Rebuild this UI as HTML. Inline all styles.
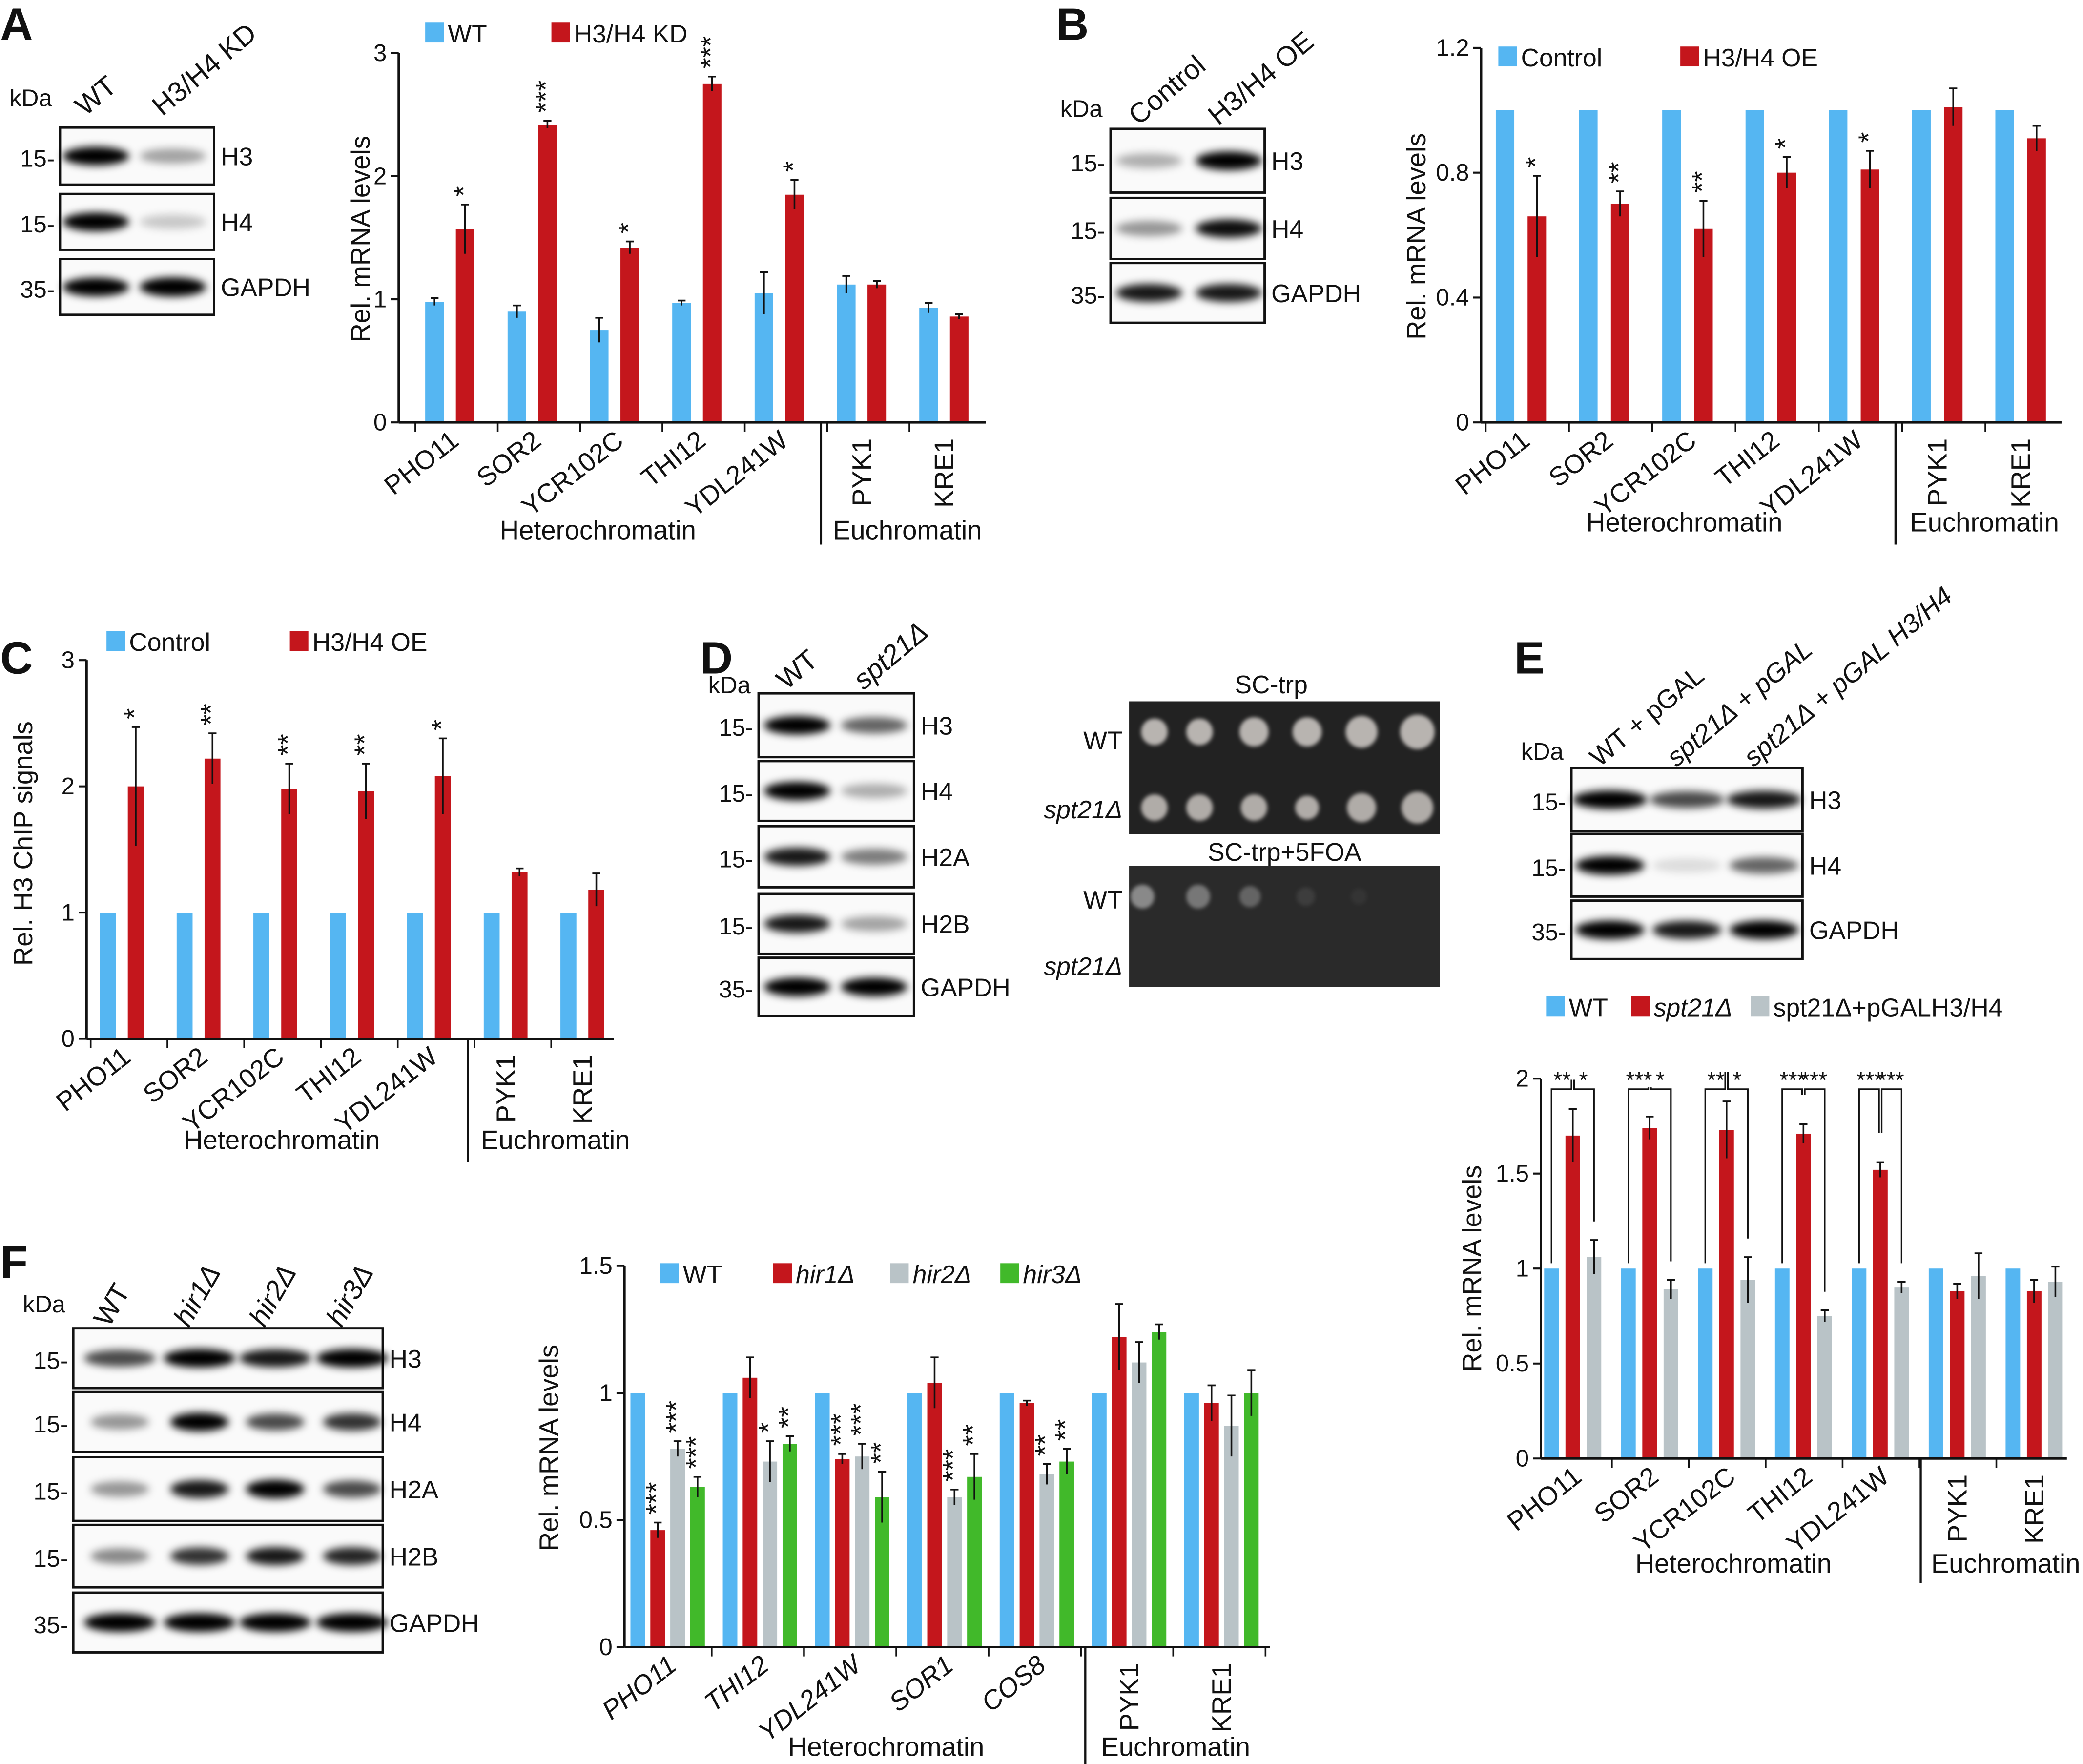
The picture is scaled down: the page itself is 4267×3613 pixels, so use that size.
<!DOCTYPE html>
<html><head><meta charset="utf-8">
<style>
html,body{margin:0;padding:0;background:#fff;}
svg{display:block;}
text{font-family:"Liberation Sans",sans-serif;fill:#111;}
</style></head>
<body>
<svg id="fig" xmlns="http://www.w3.org/2000/svg" width="4267" height="3613" viewBox="0 0 1568 1328">
<defs>
<filter id="blur" x="-30%" y="-80%" width="160%" height="260%"><feGaussianBlur stdDeviation="3"/></filter>
<filter id="blur2" x="-30%" y="-80%" width="160%" height="260%"><feGaussianBlur stdDeviation="1.5"/></filter>
</defs>
</svg>
<script>
// ---------- Data ----------
const catsA=["PHO11","SOR2","YCR102C","THI12","YDL241W","PYK1","KRE1"];
const wtA=[0.98,0.90,0.75,0.97,1.05,1.12,0.93];
const wtErrA=[0.03,0.05,0.1,0.02,0.17,0.07,0.04];
const kdA=[1.57,2.42,1.42,2.75,1.85,1.12,0.86];
const kdErrA=[0.2,0.03,0.05,0.06,0.12,0.03,0.02];
const starsA=["*","***","*","***","*","",""];
const ticksA=[0,1,2,3];

const catsB=["PHO11","SOR2","YCR102C","THI12","YDL241W","PYK1","KRE1"];
const ctlB=[1,1,1,1,1,1,1];
const oeB=[0.66,0.70,0.62,0.80,0.81,1.01,0.91];
const oeErrB=[0.13,0.04,0.09,0.05,0.06,0.06,0.04];
const starsB=["*","**","**","*","*","",""];
const ticksB=[0,0.4,0.8,1.2];

const catsC=["PHO11","SOR2","YCR102C","THI12","YDL241W","PYK1","KRE1"];
const ctlC=[1,1,1,1,1,1,1];
const oeC=[2.0,2.22,1.98,1.96,2.08,1.32,1.18];
const oeErrC=[0.47,0.2,0.2,0.22,0.3,0.03,0.13];
const starsC=["*","**","**","**","*","",""];
const ticksC=[0,1,2,3];

const catsE=["PHO11","SOR2","YCR102C","THI12","YDL241W","PYK1","KRE1"];
const wtE=[1,1,1,1,1,1,1];
const sptE=[1.70,1.74,1.73,1.71,1.52,0.88,0.88];
const sptErrE=[0.14,0.06,0.15,0.05,0.04,0.04,0.06];
const resE=[1.06,0.89,0.94,0.75,0.90,0.96,0.93];
const resErrE=[0.09,0.05,0.12,0.03,0.03,0.12,0.08];
const stars1E=["**","***","**","***","***","",""];
const stars2E=["*","*","*","***","***","",""];
const ticksE=[0,0.5,1,1.5,2];

const catsF=["PHO11","THI12","YDL241W","SOR1","COS8","PYK1","KRE1"];
const wtF=[1,1,1,1,1,1,1];
const hir1F=[0.46,1.06,0.74,1.04,0.96,1.22,0.96];
const hir1ErrF=[0.03,0.08,0.02,0.1,0.01,0.13,0.07];
const hir2F=[0.78,0.73,0.75,0.59,0.68,1.12,0.87];
const hir2ErrF=[0.03,0.08,0.05,0.03,0.04,0.08,0.12];
const hir3F=[0.63,0.80,0.59,0.67,0.73,1.24,1.00];
const hir3ErrF=[0.04,0.03,0.1,0.09,0.05,0.03,0.09];
const stars1F=["***","","***","","","",""];
const stars2F=["***","*","***","***","**","",""];
const stars3F=["***","**","**","**","**","",""];
const ticksF=[0,0.5,1,1.5];

// ---------- helpers ----------
const NS="http://www.w3.org/2000/svg";
const svg=document.getElementById('fig');
function mk(tag,attrs,parent,txt){
  const e=document.createElementNS(NS,tag);
  for(const k in attrs)e.setAttribute(k,attrs[k]);
  if(txt!==undefined)e.textContent=txt;
  (parent||svg).appendChild(e);return e;
}
const BLUE="#55b6f2",RED="#c4161c",GRAY="#b9c3c7",GREEN="#41b92a";

function chart(c){
  const g=mk('g',{});
  
  
  const ymax=c.ticks[c.ticks.length-1];
  const Y=v=>c.y0-(v/ymax)*(c.y0-c.yTop);
  const X=(i,s)=>c.first+i*c.step+c.offs[s];
  c.series.forEach((ser,s)=>{
    ser.vals.forEach((v,i)=>{
      const r=mk('rect',{x:X(i,s)-c.bw/2,y:Y(v),width:c.bw,height:c.y0-Y(v),fill:ser.color},g);
      
      
      if(ser.err){
        const e=ser.err[i];
        mk('line',{x1:X(i,s),x2:X(i,s),y1:Y(v-e),y2:Y(v+e),stroke:'#111','stroke-width':1.3},g);
        mk('line',{x1:X(i,s)-3,x2:X(i,s)+3,y1:Y(v+e),y2:Y(v+e),stroke:'#111','stroke-width':1.3},g);
      }
      if(ser.stars&&ser.stars[i]){
        const st=ser.stars[i];const yy=Y(v+(ser.err?ser.err[i]:0))-6;
        if(c.rotStars){
          mk('text',{x:X(i,s)+6,y:yy,'font-size':21,'text-anchor':'start',transform:`rotate(-90 ${X(i,s)+6} ${yy})`},g,st);
        }else mk('text',{x:X(i,s),y:yy+8,'font-size':20,'text-anchor':'middle'},g,st);
      }
    });
  });
  mk('line',{x1:c.x0,x2:c.x0,y1:c.y0,y2:c.yTop,stroke:'#111','stroke-width':1.8},g);
  mk('line',{x1:c.x0,x2:c.xEnd,y1:c.y0,y2:c.y0,stroke:'#111','stroke-width':1.8},g);
  c.ticks.forEach(t=>{
    mk('line',{x1:c.x0-6,x2:c.x0,y1:Y(t),y2:Y(t),stroke:'#111','stroke-width':1.5},g);
    const tl=mk('text',{x:c.x0-9,y:Y(t)+6,'font-size':18,'text-anchor':'end'},g,String(t));
    
    
  });
  for(let i=0;i<=c.cats.length;i++){
    const gx=c.first-c.offs[0]-c.bw/2-c.step*0.12+i*c.step;
    if(gx>c.x0+2&&gx<c.xEnd) mk('line',{x1:gx,x2:gx,y1:c.y0,y2:c.y0+7,stroke:'#111','stroke-width':1.3},g);
  }
  const mid=(c.offs[0]+c.offs[c.offs.length-1])/2;
  c.cats.forEach((cat,i)=>{
    const cx=c.first+i*c.step+mid;
    let t;
    if(i>=5){
      t=mk('text',{x:cx+7,y:c.y0+12,'font-size':20,'text-anchor':'end',transform:`rotate(-90 ${cx+7} ${c.y0+12})`},g,cat);
    }else{
      const ax=cx+8,ay=c.y0+16;
      t=mk('text',{x:ax,y:ay,'font-size':20,'text-anchor':'end',transform:`rotate(-38 ${ax} ${ay})`,'font-style':c.italicCats?'italic':'normal'},g,cat);
    }
    
    
  });
  mk('line',{x1:c.div,x2:c.div,y1:c.y0,y2:c.y0+c.divLen,stroke:'#111','stroke-width':1.6},g);
  const h=mk('text',{x:c.hetX,y:c.y0+c.grpY,'font-size':20,'text-anchor':'middle'},g,'Heterochromatin');
  
  const eu=mk('text',{x:c.euX,y:c.y0+c.grpY,'font-size':20,'text-anchor':'middle'},g,'Euchromatin');
  
  const yl=mk('text',{x:c.ylX,y:c.ylY,'font-size':20,'text-anchor':'middle',transform:`rotate(-90 ${c.ylX} ${c.ylY})`},g,c.ylabel);
  
  return {Y,X};
}
function legend(items,y){
  items.forEach(it=>{
    const r=mk('rect',{x:it.x,y:y-15,width:14,height:15,fill:it.color});
    
    
    const t=mk('text',{x:it.x+17,y:y,'font-size':19,'font-style':it.italic?'italic':'normal'},undefined,it.label);
    
    
  });
}
function letter(ch,x,y){
  const t=mk('text',{x:x,y:y,'font-size':34,'font-weight':'bold'},undefined,ch);
  
  
}
function blot(name,x,w,rows,lanes,kdaY,colLabels,labAngle,labY,italicFrom,labSize){
  const g=mk('g',{});
  
  
  rows.forEach(r=>{
    mk('rect',{x:x,y:r.y,width:w,height:r.h,fill:'#fafafa',stroke:'#111','stroke-width':1.8},g);
    r.int.forEach((v,i)=>{
      if(v<=0)return;
      const cx=lanes[i];
      mk('ellipse',{cx:cx,cy:r.y+r.h/2,rx:r.bw||25,ry:5+v*2,fill:'#000','fill-opacity':Math.min(1,v),filter:'url(#blur)'},g);
    });
    const l=mk('text',{x:x+w+5,y:r.y+r.h/2+7,'font-size':19},g,r.label);
    
    mk('text',{x:x-4,y:r.y+r.h/2+8,'font-size':18,'text-anchor':'end'},g,r.kda+'-');
  });
  mk('text',{x:x-38,y:kdaY,'font-size':18},g,'kDa');
  colLabels.forEach((c,i)=>{
    const lx=lanes[i]-8,ly=labY;
    mk('text',{x:lx,y:ly,'font-size':labSize||21,transform:`rotate(${labAngle} ${lx} ${ly})`,'font-style':(i>=italicFrom)?'italic':'normal'},g,c);
  });
}

// ---------- Panel A ----------
letter('A',0,30);
blot('blot-a',45,116,[
 {y:96,h:43,label:'H3',kda:15,int:[1,0.35]},
 {y:146,h:42,label:'H4',kda:15,int:[1,0.2]},
 {y:195,h:42,label:'GAPDH',kda:35,int:[1,1.1]}],[72,130],80,['WT','H3/H4 KD'],-40,88,9);
chart({name:'chart-a',cats:catsA,x0:300,xEnd:742,y0:318,yTop:40,ticks:ticksA,first:327,step:62,offs:[0,23],bw:14,
 series:[{key:'wt',vals:wtA,err:wtErrA,color:BLUE},{key:'kd',vals:kdA,err:kdErrA,color:RED,stars:starsA}],
 rotStars:true,div:618,divLen:92,hetX:450,euX:683,grpY:88,ylX:278,ylY:180,ylabel:'Rel. mRNA levels'});
legend([{x:320,color:BLUE,label:'WT',key:'a-wt'},{x:415,color:RED,label:'H3/H4 KD',key:'a-kd'}],32);

// ---------- Panel B ----------
letter('B',795,30);
blot('blot-b',836,116,[
 {y:97,h:48,label:'H3',kda:15,int:[0.3,1]},
 {y:149,h:46,label:'H4',kda:15,int:[0.4,0.95]},
 {y:198,h:45,label:'GAPDH',kda:35,int:[0.9,0.9]}],[865,925],88,['Control','H3/H4 OE'],-40,95,9);
chart({name:'chart-b',cats:catsB,x0:1115,xEnd:1552,y0:318,yTop:36,ticks:ticksB,first:1133,step:62.7,offs:[0,24],bw:14,
 series:[{key:'ctl',vals:ctlB,color:BLUE},{key:'oe',vals:oeB,err:oeErrB,color:RED,stars:starsB}],
 rotStars:true,div:1427,divLen:92,hetX:1268,euX:1494,grpY:82,ylX:1073,ylY:178,ylabel:'Rel. mRNA levels'});
legend([{x:1128,color:BLUE,label:'Control',key:'b-ctl'},{x:1265,color:RED,label:'H3/H4 OE',key:'b-oe'}],50);

// ---------- Panel C ----------
letter('C',0,507);
chart({name:'chart-c',cats:catsC,x0:65,xEnd:462,y0:782,yTop:497,ticks:ticksC,first:81,step:57.8,offs:[0,21],bw:12,
 series:[{key:'ctl',vals:ctlC,color:BLUE},{key:'oe',vals:oeC,err:oeErrC,color:RED,stars:starsC}],
 rotStars:true,div:352,divLen:93,hetX:212,euX:418,grpY:83,ylX:24,ylY:635,ylabel:'Rel. H3 ChIP signals'});
legend([{x:80,color:BLUE,label:'Control',key:'c-ctl'},{x:218,color:RED,label:'H3/H4 OE',key:'c-oe'}],490);

// ---------- Panel D ----------
letter('D',527,507);
blot('blot-d',571,117,[
 {y:522,h:48,label:'H3',kda:15,int:[1,0.6]},
 {y:573,h:45,label:'H4',kda:15,int:[1,0.3]},
 {y:622,h:46,label:'H2A',kda:15,int:[0.9,0.5]},
 {y:673,h:45,label:'H2B',kda:15,int:[0.9,0.35]},
 {y:721,h:44,label:'GAPDH',kda:35,int:[1,1]}],[600,658],522,['WT','spt21Δ'],-40,520,1);
(function(){
  const g=mk('g',{});
  mk('text',{x:957,y:522,'font-size':19,'text-anchor':'middle'},g,'SC-trp');
  mk('text',{x:967,y:648,'font-size':19,'text-anchor':'middle'},g,'SC-trp+5FOA');
  mk('rect',{x:850,y:528,width:234,height:100,fill:'#222'},g);
  mk('rect',{x:850,y:652,width:234,height:91,fill:'#2a2a2a'},g);
  mk('text',{x:845,y:564,'font-size':19,'text-anchor':'end'},g,'WT');
  mk('text',{x:845,y:616,'font-size':19,'text-anchor':'end','font-style':'italic'},g,'spt21Δ');
  mk('text',{x:845,y:684,'font-size':19,'text-anchor':'end'},g,'WT');
  mk('text',{x:845,y:734,'font-size':19,'text-anchor':'end','font-style':'italic'},g,'spt21Δ');
  const sx=[869,903,944,984,1025,1067];
  const r1=[10,10,11,11,12,13],r2=[10,10,10,9,11,12];
  sx.forEach((x,i)=>{
    mk('circle',{cx:x,cy:551,r:r1[i],fill:'#b8b4b0',filter:'url(#blur2)'},g);
    mk('circle',{cx:x,cy:608,r:r2[i],fill:'#b0aca8',filter:'url(#blur2)'},g);
  });
  [[860,675,9,0.75],[902,675,9,0.6],[941,675,8,0.45],[983,675,7,0.15],[1023,675,6,0.08]].forEach(s=>{
    mk('circle',{cx:s[0],cy:s[1],r:s[2],fill:'#aaa','fill-opacity':s[3],filter:'url(#blur2)'},g);
  });
})();

// ---------- Panel E ----------
letter('E',1140,507);
blot('blot-e',1183,174,[
 {y:578,h:48,label:'H3',kda:15,int:[1,0.7,0.9],bw:28},
 {y:628,h:47,label:'H4',kda:15,int:[1,0.12,0.6],bw:26},
 {y:678,h:44,label:'GAPDH',kda:35,int:[1,0.9,1],bw:26}],[1212,1270,1328],572,['WT + pGAL','spt21Δ + pGAL','spt21Δ + pGAL H3/H4'],-40,578,1,20);
const E=chart({name:'chart-e',cats:catsE,x0:1160,xEnd:1556,y0:1098,yTop:812,ticks:ticksE,first:1168,step:57.9,offs:[0,16,32],bw:11,
 series:[{key:'wt',vals:wtE,color:BLUE},{key:'spt21',vals:sptE,err:sptErrE,color:RED},{key:'rescue',vals:resE,err:resErrE,color:GRAY}],
 rotStars:false,div:1446,divLen:94,hetX:1305,euX:1510,grpY:86,ylX:1115,ylY:955,ylabel:'Rel. mRNA levels'});
legend([{x:1164,color:BLUE,label:'WT',key:'e-wt'},{x:1228,color:RED,label:'spt21Δ',key:'e-spt21',italic:true},{x:1318,color:GRAY,label:'spt21Δ+pGALH3/H4',key:'e-rescue'}],765);
(function(){
  const g=mk('g',{});
  catsE.forEach((c,i)=>{
    if(!stars1E[i])return;
    const x0=E.X(i,0),x1=E.X(i,1),x2=E.X(i,2),top=E.Y(2)+8;
    mk('polyline',{points:`${x0},${E.Y(wtE[i])-4} ${x0},${top} ${x1-1},${top} ${x1-1},${E.Y(sptE[i]+sptErrE[i])-22}`,fill:'none',stroke:'#111','stroke-width':1.2},g);
    mk('polyline',{points:`${x1+1},${E.Y(sptE[i]+sptErrE[i])-22} ${x1+1},${top} ${x2},${top} ${x2},${E.Y(resE[i]+resErrE[i])-14}`,fill:'none',stroke:'#111','stroke-width':1.2},g);
    mk('text',{x:(x0+x1)/2,y:top-1,'font-size':17,'text-anchor':'middle'},g,stars1E[i]);
    mk('text',{x:(x1+x2)/2,y:top-1,'font-size':17,'text-anchor':'middle'},g,stars2E[i]);
  });
})();

// ---------- Panel F ----------
letter('F',0,962);
blot('blot-f',55,233,[
 {y:1000,h:45,label:'H3',kda:15,int:[0.7,1,0.9,1],bw:27},
 {y:1048,h:45,label:'H4',kda:15,int:[0.4,1,0.7,0.8],bw:22},
 {y:1097,h:48,label:'H2A',kda:15,int:[0.4,0.9,1,0.7],bw:22},
 {y:1148,h:47,label:'H2B',kda:15,int:[0.45,0.8,0.9,0.85],bw:22},
 {y:1199,h:45,label:'GAPDH',kda:35,int:[1,1,1,1],bw:27}],[90,150,207,265],988,['WT','hir1Δ','hir2Δ','hir3Δ'],-60,1000,1,21);
chart({name:'chart-f',cats:catsF,x0:470,xEnd:956,y0:1240,yTop:953,ticks:ticksF,first:480,step:69.5,offs:[0,15,30,45],bw:11,
 series:[{key:'wt',vals:wtF,color:BLUE},{key:'hir1',vals:hir1F,err:hir1ErrF,color:RED,stars:stars1F},
  {key:'hir2',vals:hir2F,err:hir2ErrF,color:GRAY,stars:stars2F},{key:'hir3',vals:hir3F,err:hir3ErrF,color:GREEN,stars:stars3F}],
 rotStars:true,italicCats:true,div:817,divLen:88,hetX:667,euX:885,grpY:82,ylX:420,ylY:1090,ylabel:'Rel. mRNA levels'});
legend([{x:497,color:BLUE,label:'WT',key:'f-wt'},{x:582,color:RED,label:'hir1Δ',key:'f-hir1',italic:true},{x:670,color:GRAY,label:'hir2Δ',key:'f-hir2',italic:true},{x:753,color:GREEN,label:'hir3Δ',key:'f-hir3',italic:true}],966);
</script>
</body></html>
